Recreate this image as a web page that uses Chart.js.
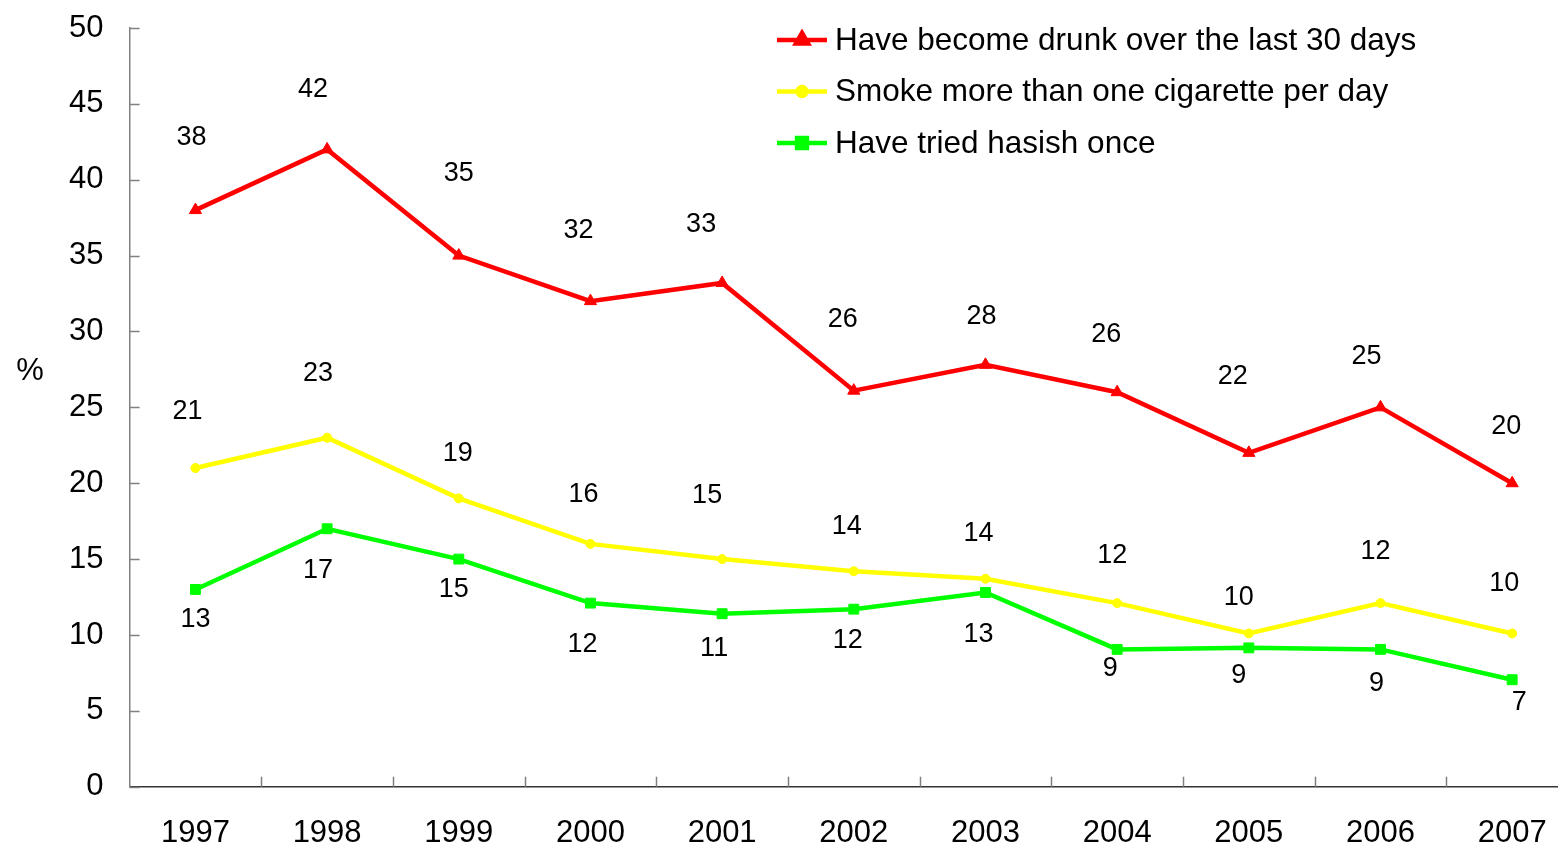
<!DOCTYPE html>
<html>
<head>
<meta charset="utf-8">
<script src="https://cdn.jsdelivr.net/npm/chart.js@4/dist/chart.umd.min.js"></script>
<style>
  html, body { margin: 0; padding: 0; background: #fff; overflow: hidden; }
  #wrap { width: 1558px; height: 847px; overflow: hidden; }
</style>
</head>
<body>
<div id="wrap"><canvas id="chart" width="1586" height="847"></canvas></div>
<script>
const years = ["1997", "1998", "1999", "2000", "2001", "2002", "2003", "2004", "2005", "2006", "2007"];

const drunk = [38, 42, 35, 32, 33.2, 26.1, 27.8, 26, 22, 25, 20];
const smoke = [21, 23, 19, 16, 15, 14.2, 13.7, 12.1, 10.1, 12.1, 10.1];
const hasish = [13, 17, 15, 12.1, 11.4, 11.7, 12.8, 9.05, 9.15, 9.05, 7.05];

const drunkLabels = ["38", "42", "35", "32", "33", "26", "28", "26", "22", "25", "20"];
const smokeLabels = ["21", "23", "19", "16", "15", "14", "14", "12", "10", "12", "10"];
const hasishLabels = ["13", "17", "15", "12", "11", "12", "13", "9", "9", "9", "7"];

const seriesNames = [
  "Have become drunk over the last 30 days",
  "Smoke more than one cigarette per day",
  "Have tried hasish once",
];

const yTicks = [0, 5, 10, 15, 20, 25, 30, 35, 40, 45, 50];

// hand placed label offsets (px) from each point, like the original
const drunkOffsets = [[-4, -73], [-14, -60], [0, -82], [-12, -71], [-21, -58], [-11, -71], [-4, -48], [-11, -58], [-16, -76], [-14, -51], [-6, -57]];
const smokeOffsets = [[-8, -56], [-9, -64], [-1, -45], [-7, -49], [-15, -64], [-7, -45], [-7, -45], [-5, -48], [-10, -36], [-5, -52], [-8, -50]];
const hasishOffsets = [[0, 30], [-9, 42], [-5, 30], [-8, 41], [-8, 35], [-6, 31], [-7, 42], [-7, 19], [-10, 28], [-4, 34], [7, 23]];

const FONT = "'Liberation Sans', Arial, sans-serif";
const RED = "#ff0000";
const YELLOW = "#ffff00";
const GREEN = "#00ff00";

const valueLabels = [drunkLabels, smokeLabels, hasishLabels];
const labelOffsets = [drunkOffsets, smokeOffsets, hasishOffsets];

const extras = {
  id: "extras",
  afterDraw(chart) {
    const ctx = chart.ctx;
    const area = chart.chartArea;
    const x = chart.scales.x;
    const y = chart.scales.y;

    ctx.save();
    // inward tick marks
    ctx.strokeStyle = "#808080";
    ctx.lineWidth = 1.5;
    yTicks.forEach((v) => {
      const py = Math.round(y.getPixelForValue(v)) + 0.5;
      ctx.beginPath();
      ctx.moveTo(area.left, py);
      ctx.lineTo(area.left + 10, py);
      ctx.stroke();
    });
    for (let i = 1; i < years.length; i++) {
      const px = Math.round((x.getPixelForTick(i - 1) + x.getPixelForTick(i)) / 2) + 0.5;
      ctx.beginPath();
      ctx.moveTo(px, area.bottom);
      ctx.lineTo(px, area.bottom - 10);
      ctx.stroke();
    }

    // value labels
    ctx.fillStyle = "#000";
    ctx.font = "27px " + FONT;
    ctx.textAlign = "center";
    ctx.textBaseline = "middle";
    chart.data.datasets.forEach((ds, di) => {
      const meta = chart.getDatasetMeta(di);
      meta.data.forEach((pt, i) => {
        const off = labelOffsets[di][i];
        ctx.fillText(valueLabels[di][i], pt.x + off[0], pt.y + off[1]);
      });
    });

    // % axis label
    ctx.font = "31px " + FONT;
    ctx.fillText("%", 30, 371);

    // legend inside plot
    ctx.textAlign = "left";
    ctx.font = "31.5px " + FONT;
    chart.data.datasets.forEach((ds, di) => {
      const ly = 40 + di * 51.5;
      ctx.strokeStyle = ds.borderColor;
      ctx.lineWidth = 4.5;
      ctx.beginPath();
      ctx.moveTo(777, ly);
      ctx.lineTo(827, ly);
      ctx.stroke();
      Chart.helpers.drawPoint(ctx, {
        pointStyle: ds.pointStyle,
        radius: ds.pointRadius,
        borderWidth: 1,
      }, 802, ly);
      ctx.fillStyle = ds.borderColor;
      ctx.fill();
      ctx.fillStyle = "#000";
      ctx.fillText(seriesNames[di], 835, ly + 1);
    });
    ctx.restore();
  },
};

function series(label, data, color, style, radius) {
  return {
    label,
    data,
    borderColor: color,
    backgroundColor: color,
    pointBackgroundColor: color,
    pointBorderColor: color,
    borderWidth: 4.5,
    pointStyle: style,
    pointRadius: radius,
    pointBorderWidth: 1,
    tension: 0,
  };
}

new Chart(document.getElementById("chart"), {
  type: "line",
  data: {
    labels: years,
    datasets: [
      series(seriesNames[0], drunk, RED, "triangle", 7),
      series(seriesNames[1], smoke, YELLOW, "circle", 4.5),
      series(seriesNames[2], hasish, GREEN, "rect", 7),
    ],
  },
  options: {
    responsive: false,
    animation: false,
    devicePixelRatio: 1,
    layout: { padding: { top: 28, right: 2, left: 0, bottom: 0 } },
    plugins: {
      legend: { display: false },
      tooltip: { enabled: false },
    },
    scales: {
      x: {
        offset: true,
        grid: { display: false, drawTicks: false },
        border: { display: true, color: "#333", width: 1.5 },
        ticks: { color: "#000", font: { family: FONT, size: 31 }, padding: 28, maxRotation: 0, autoSkip: false },
        afterFit: (s) => { s.height = 60.3; s.paddingLeft = 0; s.paddingRight = 0; },
      },
      y: {
        min: 0,
        max: 50,
        grid: { display: false, drawTicks: false },
        border: { display: true, color: "#808080", width: 1.5 },
        ticks: { stepSize: 5, color: "#000", font: { family: FONT, size: 31 }, padding: 26 },
        afterFit: (s) => { s.width = 129.6; s.paddingTop = 0; s.paddingBottom = 0; },
      },
    },
  },
  plugins: [extras],
});
</script>
</body>
</html>
